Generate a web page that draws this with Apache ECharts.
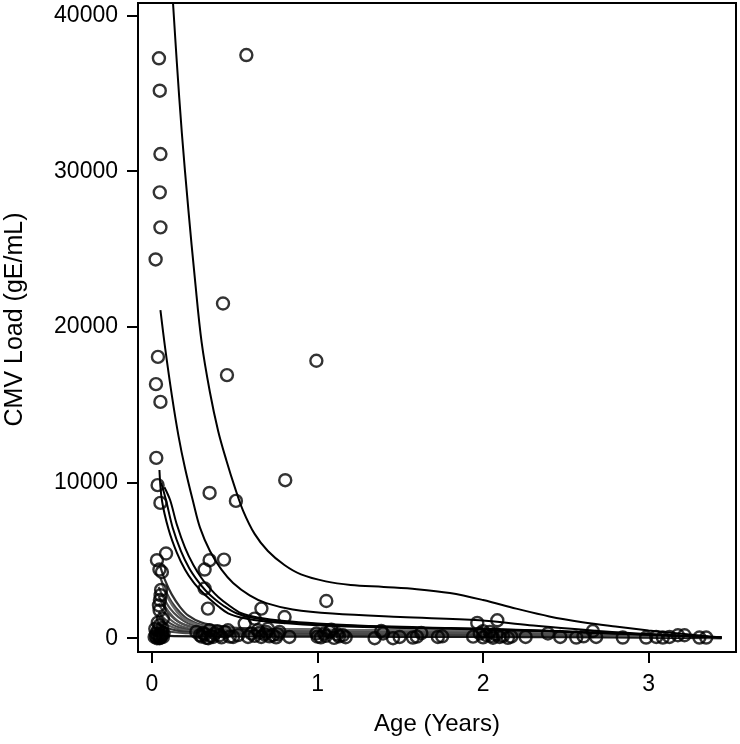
<!DOCTYPE html>
<html>
<head>
<meta charset="utf-8">
<script src="https://cdn.jsdelivr.net/npm/echarts@6/dist/echarts.min.js"></script>
<style>html,body{margin:0;padding:0;background:#fff}#c{width:740px;height:744px}</style>
</head>
<body>
<div id="c"></div>
<script>
// ---- data ----
const xTicks = [0, 1, 2, 3];
const yTicks = [0, 10000, 20000, 30000, 40000];
const xTitle = 'Age (Years)';
const yTitle = 'CMV Load (gE/mL)';

// observed points [age (years), CMV load]
const points = [
  [0.042,37250],[0.047,35170],[0.051,31100],[0.047,28640],[0.051,26390],[0.022,24330],
  [0.036,18070],[0.024,16320],[0.051,15180],[0.026,11580],[0.034,9830],[0.051,8690],
  [0.570,37460],[0.429,21500],[0.453,16900],[0.993,17820],[0.348,9330],[0.507,8820],[0.805,10150],
  [0.030,5010],[0.085,5440],[0.045,4410],[0.060,4250],[0.052,2760],[0.042,2110],[0.046,1790],
  [0.066,1260],[0.046,830],[0.036,510],[0.026,300],[0.057,400],[0.016,80],[0.066,80],[0.040,150],
  [0.030,0],[0.050,30],[0.060,250],[0.020,600],[0.048,2450],[0.055,3100],[0.035,1000],[0.062,650],
  [0.025,150],[0.045,0],[0.070,300],[0.055,120],
  [0.318,4410],[0.348,5010],[0.435,5050],[0.318,3190],[0.338,1900],[0.268,400],[0.308,330],
  [0.348,510],[0.368,80],[0.409,190],[0.459,510],[0.490,80],[0.580,80],[0.560,940],[0.620,1260],
  [0.661,1900],[0.801,1360],[0.640,510],[0.690,400],[0.730,190],[0.770,400],[0.830,80],[0.300,100],
  [0.330,20],[0.380,300],[0.420,50],[0.440,400],[0.520,200],[0.600,300],[0.660,80],[0.700,600],
  [0.750,50],[0.680,250],[0.320,250],[0.355,150],[0.395,450],[0.470,100],[0.340,0],[0.290,200],
  [0.620,150],[0.710,120],[0.650,350],[0.760,250],
  [1.053,2390],[0.993,300],[1.073,400],[1.153,190],[1.083,550],[1.020,50],[1.050,150],[1.100,20],
  [1.120,250],[1.170,60],[1.000,100],[1.040,300],[1.130,120],
  [1.345,0],[1.396,300],[1.456,0],[1.385,460],[1.496,80],[1.576,40],[1.627,330],[1.600,100],
  [1.727,80],[1.753,120],
  [1.965,980],[2.086,1150],[1.940,100],[1.980,300],[2.000,50],[2.020,200],[2.040,400],[2.060,30],
  [2.080,250],[2.100,80],[2.120,150],[2.150,20],[2.170,100],[2.257,80],[2.392,300],[2.466,80],
  [2.563,40],[2.607,120],[2.663,460],[2.683,80],[2.844,40],[2.985,40],[3.046,80],[3.086,40],
  [3.126,80],[3.177,190],[3.217,190],[3.307,40],[3.348,40],[2.050,150],[2.000,450]
];

// fitted individual curves (black)
const curveA = [[0.127,40800],[0.15,37000],[0.18,32500],[0.22,27500],[0.26,23000],[0.3,19000],[0.35,15800],[0.4,13300],[0.45,11400],[0.5,9700],[0.55,8200],[0.62,6700],[0.7,5600],[0.8,4700],[0.9,4100],[1.05,3650],[1.2,3420],[1.4,3290],[1.6,3150],[1.8,2900],[2.0,2450],[2.2,1900],[2.4,1400],[2.6,1030],[2.8,750],[3.0,500],[3.2,280],[3.44,40]];
const curveB = [[0.051,21070],[0.08,18600],[0.12,15600],[0.16,13000],[0.2,10900],[0.25,8700],[0.29,7100],[0.35,5600],[0.42,4400],[0.49,3550],[0.59,2750],[0.69,2250],[0.85,1850],[1.09,1580],[1.5,1360],[1.98,1150],[2.28,830],[2.78,400],[3.44,40]];
const curveC1 = [[0.045,10800],[0.06,8860],[0.1,7000],[0.15,5500],[0.2,4400],[0.25,3600],[0.3,3000],[0.35,2500],[0.4,2050],[0.46,1600],[0.55,1300],[0.7,1050],[1.0,830],[1.4,680],[1.8,600],[2.2,500],[2.6,370],[3.0,220],[3.44,40]];
const curveC2 = [[0.055,10000],[0.085,8860],[0.125,7100],[0.175,5600],[0.225,4500],[0.275,3700],[0.325,3050],[0.375,2550],[0.43,2100],[0.51,1600],[0.6,1320],[0.75,1080],[1.0,900],[1.4,720],[1.8,630],[2.2,530],[2.6,380],[3.0,230],[3.44,40]];
const curveC3 = [[0.075,9700],[0.11,8860],[0.15,7300],[0.2,5800],[0.25,4700],[0.3,3850],[0.35,3200],[0.4,2650],[0.46,2150],[0.54,1600],[0.64,1330],[0.8,1100],[1.0,950],[1.4,760],[1.8,660],[2.2,550],[2.6,390],[3.0,240],[3.44,40]];

// fitted individual curves (grey bundle)
const curveG1 = [[0.05,4600],[0.08,3700],[0.12,2800],[0.17,2000],[0.22,1450],[0.3,1000],[0.4,780],[0.55,650],[0.8,580],[1.2,520],[1.6,480],[2.0,430],[2.4,340],[2.8,220],[3.2,110],[3.44,30]];
const curveG2 = [[0.05,3900],[0.08,3100],[0.12,2300],[0.17,1650],[0.22,1200],[0.3,850],[0.4,680],[0.55,580],[0.8,520],[1.2,470],[1.6,430],[2.0,390],[2.4,310],[2.8,200],[3.2,100],[3.44,30]];
const curveG3 = [[0.04,3300],[0.07,2600],[0.11,1900],[0.16,1350],[0.22,950],[0.3,700],[0.4,560],[0.55,490],[0.8,450],[1.2,420],[1.6,390],[2.0,350],[2.4,280],[2.8,180],[3.2,90],[3.44,25]];
const curveG4 = [[0.04,2700],[0.07,2100],[0.11,1500],[0.16,1050],[0.22,780],[0.3,580],[0.4,480],[0.55,430],[0.8,400],[1.2,370],[1.6,340],[2.0,310],[2.4,250],[2.8,160],[3.2,80],[3.44,25]];
const curveG5 = [[0.04,2200],[0.07,1700],[0.11,1200],[0.16,850],[0.22,640],[0.3,500],[0.4,420],[0.55,380],[0.8,350],[1.2,330],[1.6,300],[2.0,270],[2.4,220],[2.8,140],[3.2,70],[3.44,20]];
const curveG6 = [[0.04,1700],[0.07,1300],[0.11,950],[0.16,700],[0.22,540],[0.3,430],[0.4,370],[0.55,340],[0.8,310],[1.2,290],[1.6,270],[2.0,240],[2.4,190],[2.8,120],[3.2,60],[3.44,20]];
const curveG7 = [[0.04,1300],[0.07,1000],[0.11,760],[0.16,580],[0.22,460],[0.3,380],[0.4,330],[0.55,300],[0.8,280],[1.2,260],[1.6,240],[2.0,210],[2.4,170],[2.8,110],[3.2,55],[3.44,15]];
const curveG8 = [[0.04,900],[0.07,740],[0.11,590],[0.16,470],[0.22,390],[0.3,330],[0.4,290],[0.55,270],[0.8,250],[1.2,230],[1.6,210],[2.0,190],[2.4,150],[2.8,100],[3.2,50],[3.44,15]];
const curveG9 = [[0.04,600],[0.08,480],[0.14,380],[0.22,320],[0.3,280],[0.45,250],[0.7,230],[1.0,210],[1.5,190],[2.0,170],[2.4,130],[2.8,85],[3.2,40],[3.44,10]];
const curveG10 = [[0.04,200],[0.1,150],[0.3,120],[0.6,110],[1.0,100],[1.5,90],[2.0,80],[2.5,60],[3.0,40],[3.44,0]];
const curveG11 = [[0.06,3500],[0.1,2500],[0.15,1700],[0.2,1200],[0.28,850],[0.38,680],[0.55,600],[0.8,560],[1.2,520],[1.6,480],[2.0,440],[2.4,350],[2.8,230],[3.2,110],[3.44,30]];
const curveG12 = [[0.06,2400],[0.1,1700],[0.15,1150],[0.2,850],[0.28,620],[0.38,520],[0.55,470],[0.8,440],[1.2,410],[1.6,380],[2.0,340],[2.4,270],[2.8,170],[3.2,85],[3.44,25]];

const blackCurves = [curveA, curveB, curveC1, curveC2, curveC3];
const greyCurves = [curveG1, curveG2, curveG3, curveG4, curveG5, curveG6, curveG7, curveG8, curveG9, curveG10, curveG11, curveG12];
const greyColors = ['#2e2e2e','#3c3c3c','#4a4a4a','#363636','#555555','#424242','#5e5e5e','#333333','#484848','#1a1a1a','#6a6a6a','#505050'];

// ---- chart ----
const FONT = '"Liberation Sans", Arial, Helvetica, sans-serif';
const series = [];
greyCurves.forEach((c, i) => series.push({
  type: 'line', data: c, smooth: 0.35, showSymbol: false, silent: true,
  lineStyle: { color: greyColors[i], width: 2.2 }, z: 2
}));
blackCurves.forEach(c => series.push({
  type: 'line', data: c, smooth: 0.35, showSymbol: false, silent: true,
  lineStyle: { color: '#000', width: 2 }, z: 3
}));
series.push({
  type: 'scatter', data: points, symbol: 'circle', symbolSize: 12,
  itemStyle: { color: 'rgba(255,255,255,0)', borderColor: '#000', borderWidth: 2.4 }, z: 4
});

const chart = echarts.init(document.getElementById('c'), null, { renderer: 'canvas' });
chart.setOption({
  animation: false,
  backgroundColor: '#fff',
  grid: { left: 138, top: 3, right: 4, bottom: 92, show: true, borderColor: '#000', borderWidth: 2,
          backgroundColor: 'transparent', containLabel: false, outerBoundsMode: 'none' },
  xAxis: {
    type: 'value', min: -0.0845, max: 3.528,
    name: xTitle, nameLocation: 'middle', nameGap: 60,
    nameTextStyle: { fontFamily: FONT, fontSize: 24, color: '#000' },
    axisLine: { show: true, onZero: false, lineStyle: { color: '#000', width: 2 } },
    axisTick: { show: true, length: 11, customValues: xTicks, lineStyle: { color: '#000', width: 2 } },
    axisLabel: { customValues: xTicks, margin: 21, fontFamily: FONT, fontSize: 23, color: '#000',
                 formatter: v => String(v) },
    splitLine: { show: false }
  },
  yAxis: {
    type: 'value', min: -887, max: 40803,
    name: yTitle, nameLocation: 'middle', nameGap: 110, nameRotate: 90,
    nameTextStyle: { fontFamily: FONT, fontSize: 25, color: '#000', padding: [0, 0, 0, 16] },
    axisLine: { show: true, onZero: false, lineStyle: { color: '#000', width: 2 } },
    axisTick: { show: true, length: 11, customValues: yTicks, lineStyle: { color: '#000', width: 2 } },
    axisLabel: { customValues: yTicks, margin: 20, fontFamily: FONT, fontSize: 23, color: '#000',
                 formatter: v => String(v) },
    splitLine: { show: false }
  },
  series: series
});
</script>
</body>
</html>
